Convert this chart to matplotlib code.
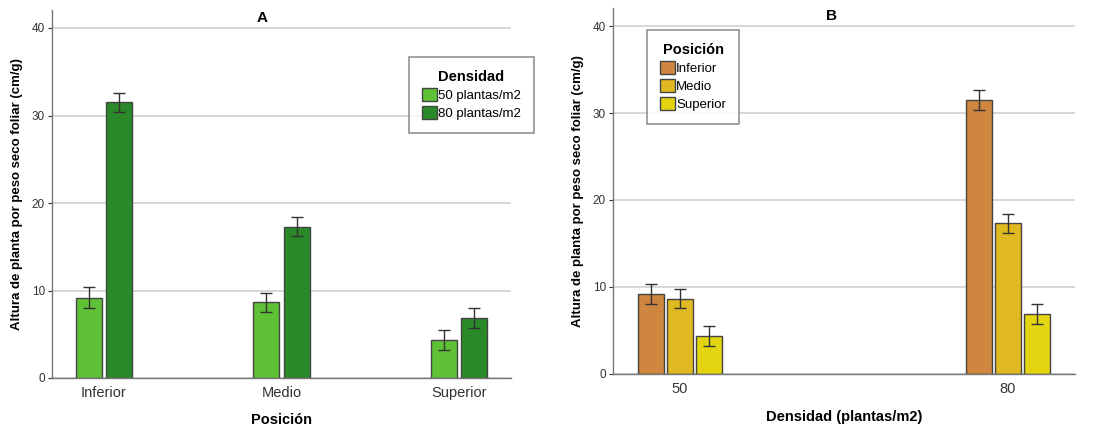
import matplotlib
matplotlib.use("Agg")
import matplotlib.pyplot as plt
import numpy as np
from matplotlib.patches import Patch

plt.rcParams['font.family'] = ['Liberation Sans', 'DejaVu Sans']

posiciones = ["Inferior", "Medio", "Superior"]
densidades = ["50", "80"]
densidad_labels = ["50 plantas/m2", "80 plantas/m2"]
# means [position][density]
media_50 = [9.2, 8.65, 4.35]
media_80 = [31.5, 17.3, 6.9]
err_50 = [1.15, 1.1, 1.15]
err_80 = [1.1, 1.1, 1.15]

col_dens = ["#5fc236", "#2a8a2a"]
col_pos = ["#cf863f", "#e0b81f", "#e3d510"]
edge = "#444444"
grid_c = "#d4d4d4"

fig = plt.figure(figsize=(11.15, 4.28), dpi=100)

def style(ax, ymax):
    ax.set_ylim(0, ymax)
    ax.set_yticks([0, 10, 20, 30, 40])
    for s in ["top", "right"]:
        ax.spines[s].set_visible(False)
    for s in ["left", "bottom"]:
        ax.spines[s].set_color("#777777")
        ax.spines[s].set_linewidth(1.0)
    ax.yaxis.grid(True, color=grid_c, linewidth=1.3)
    ax.set_axisbelow(True)
    ax.tick_params(axis='y', labelsize=8.5, colors="#333333", length=3, width=0.8, pad=2)
    ax.tick_params(axis='x', labelsize=10.5, colors="#333333", length=0, pad=6)
    ax.set_ylabel("Altura de planta por peso seco foliar (cm/g)", fontsize=9.5,
                  fontweight='bold', labelpad=6)

def legend(ax, handles, labels, title, anchor):
    leg = ax.legend(handles, labels, title=title, loc='upper left',
                    bbox_to_anchor=anchor, fontsize=9.5, frameon=True,
                    fancybox=False, edgecolor="#777777", handlelength=1.1, handleheight=1.1,
                    handletextpad=0.1, labelspacing=0.3, borderpad=1.0, borderaxespad=0)
    leg.get_title().set_fontweight('bold')
    leg.get_title().set_fontsize(10.5)
    leg.get_frame().set_linewidth(1.2)
    leg._legend_box.sep = 3
    return leg

# Panel A
axA = fig.add_axes([52/1115, 1-378/428, 459/1115, 368/428])
x = np.arange(len(posiciones))
w = 0.146
off = 0.0845
ek = dict(ecolor="#333333", elinewidth=1, capsize=4, capthick=1)
axA.bar(x - off, media_50, w, color=col_dens[0], edgecolor=edge, linewidth=1,
        yerr=err_50, error_kw=ek, label=densidad_labels[0])
axA.bar(x + off, media_80, w, color=col_dens[1], edgecolor=edge, linewidth=1,
        yerr=err_80, error_kw=ek, label=densidad_labels[1])
axA.set_xlim(-0.29, 2.29)
axA.set_xticks(x)
axA.set_xticklabels(posiciones)
style(axA, 368/8.75)
axA.set_xlabel("Posición", fontsize=10.5, fontweight='bold', labelpad=9)
axA.set_title("A", fontsize=11, fontweight='bold', x=0.457, y=0.945)
handlesA = [Patch(facecolor=c, edgecolor=edge) for c in col_dens]
legend(axA, handlesA, densidad_labels, "Densidad", ((409-52)/459, 1-(57-10)/368))

# Panel B
axB = fig.add_axes([613/1115, 1-373.7/428, 462/1115, 365.7/428])
xb = np.arange(len(densidades))
wb = 0.08
offb = 0.089
series = [[media_50[i], media_80[i]] for i in range(3)]
errs = [[err_50[i], err_80[i]] for i in range(3)]
for i in range(3):
    axB.bar(xb + (i - 1) * offb, series[i], wb, color=col_pos[i], edgecolor=edge,
            linewidth=1, yerr=errs[i], error_kw=ek, label=posiciones[i])
axB.set_xlim(-0.204, 1.204)
axB.set_xticks(xb)
axB.set_xticklabels(densidades)
style(axB, 365.7/8.69)
axB.set_xlabel("Densidad (plantas/m2)", fontsize=10.5, fontweight='bold', labelpad=10)
axB.set_title("B", fontsize=11, fontweight='bold', x=0.472, y=0.945)
handlesB = [Patch(facecolor=c, edgecolor=edge) for c in col_pos]
legend(axB, handlesB, posiciones, "Posición", ((647-613)/462, 1-(30-8)/365.7))

fig.savefig("out.png", dpi=100)
